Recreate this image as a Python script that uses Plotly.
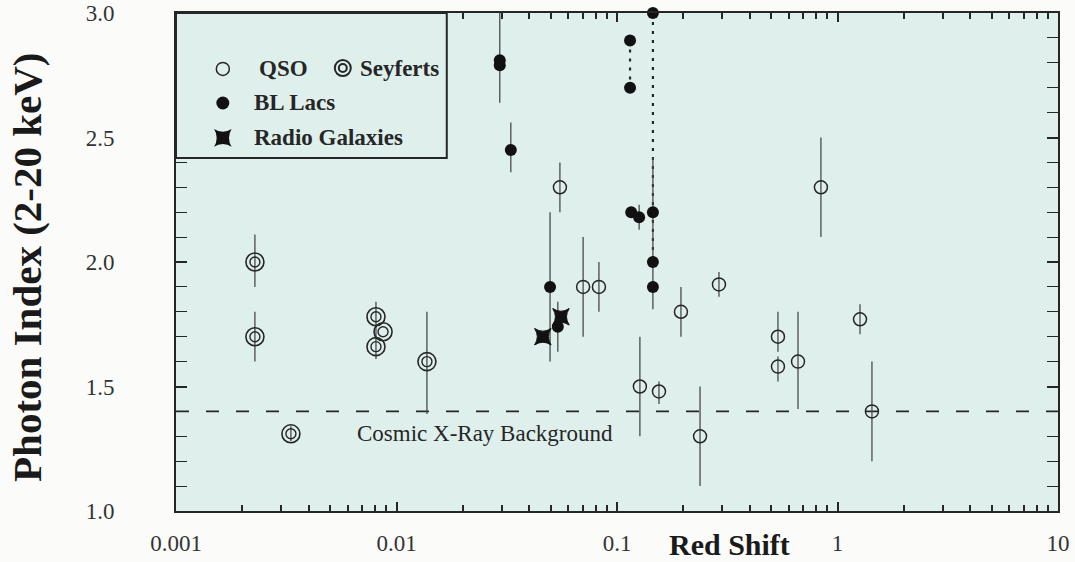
import plotly.graph_objects as go
import numpy as np

# ---------------- data ----------------
qso_z = [0.0551, 0.0702, 0.0828, 0.127, 0.155, 0.195, 0.238, 0.290, 0.537, 0.537, 0.662, 0.841, 1.265, 1.433]
qso_g = [2.30, 1.90, 1.90, 1.50, 1.48, 1.80, 1.30, 1.91, 1.70, 1.58, 1.60, 2.30, 1.77, 1.40]
qso_hi = [2.40, 2.10, 2.00, 1.70, 1.52, 1.90, 1.50, 1.96, 1.80, 1.62, 1.80, 2.50, 1.83, 1.60]
qso_lo = [2.20, 1.70, 1.80, 1.30, 1.43, 1.70, 1.10, 1.86, 1.64, 1.52, 1.41, 2.10, 1.71, 1.20]

sey_z = [0.00228, 0.00228, 0.00807, 0.00869, 0.00807, 0.01374, 0.00332]
sey_g = [2.00, 1.70, 1.78, 1.72, 1.66, 1.60, 1.31]
sey_hi = [2.11, 1.80, 1.84, 1.72, 1.72, 1.80, 1.34]
sey_lo = [1.90, 1.60, 1.72, 1.72, 1.61, 1.39, 1.28]

bll_z = [0.0294, 0.0294, 0.0330, 0.1146, 0.1146, 0.1455, 0.1455, 0.1455, 0.1455, 0.1160, 0.126, 0.0497, 0.0539]
bll_g = [2.81, 2.79, 2.45, 2.89, 2.70, 3.00, 2.20, 2.00, 1.90, 2.20, 2.18, 1.90, 1.74]
bll_hi = [3.00, 2.79, 2.56, 2.89, 2.70, 3.00, 2.20, 2.00, 2.42, 2.20, 2.23, 2.20, 1.84]
bll_lo = [2.64, 2.79, 2.36, 2.89, 2.70, 3.00, 2.20, 2.00, 1.81, 2.20, 2.13, 1.60, 1.64]

rg_z = [0.0461, 0.0557]
rg_g = [1.70, 1.78]

# dotted links between variable BL Lac states
link_z = [0.1146, 0.1455]
link_top = [2.89, 3.00]
link_bot = [2.70, 2.00]

cxb_gamma = 1.4
cxb_z = [0.001, 10]

y_tickvals = [1.0, 1.5, 2.0, 2.5, 3.0]
y_ticktext = ["1.0", "1.5", "2.0", "2.5", "3.0"]

# ---------------- styling ----------------
INK = "#262626"
BAR = "#4a4a4a"
FONT = "Liberation Serif"


def err(g, hi, lo):
    return (np.array(hi) - np.array(g)).tolist(), (np.array(g) - np.array(lo)).tolist()


fig = go.Figure()

# CXB dashed line
fig.add_trace(go.Scatter(x=cxb_z, y=[cxb_gamma, cxb_gamma], mode="lines",
                         line=dict(color=INK, width=1.6, dash="13px,17px"),
                         hoverinfo="skip", showlegend=False))
# same line on the minor-tick overlay axis (keeps that axis drawn, invisible)
fig.add_trace(go.Scatter(x=cxb_z, y=[cxb_gamma, cxb_gamma], xaxis="x3", mode="lines",
                         line=dict(color="rgba(0,0,0,0)", width=0),
                         hoverinfo="skip", showlegend=False))

# dotted links
for zz, t, b in zip(link_z, link_top, link_bot):
    fig.add_trace(go.Scatter(x=[zz, zz], y=[t, b], mode="lines",
                             line=dict(color=INK, width=2.2, dash="3px,6px"),
                             hoverinfo="skip", showlegend=False, cliponaxis=False))

eq = dict(type="data", symmetric=False, color=BAR, thickness=1.3, width=0)

up, dn = err(qso_g, qso_hi, qso_lo)
fig.add_trace(go.Scatter(x=qso_z, y=qso_g, mode="markers", name="QSO",
                         error_y=dict(array=up, arrayminus=dn, **eq),
                         marker=dict(symbol="circle-open", size=13, color=INK, line=dict(width=1.5)),
                         showlegend=False))

up, dn = err(sey_g, sey_hi, sey_lo)
fig.add_trace(go.Scatter(x=sey_z, y=sey_g, mode="markers", name="Seyferts",
                         error_y=dict(array=up, arrayminus=dn, **eq),
                         marker=dict(symbol="circle-open", size=18, color=INK, line=dict(width=1.6)),
                         showlegend=False))
fig.add_trace(go.Scatter(x=sey_z, y=sey_g, mode="markers",
                         marker=dict(symbol="circle-open", size=10, color=INK, line=dict(width=1.4)),
                         showlegend=False, hoverinfo="skip"))

up, dn = err(bll_g, bll_hi, bll_lo)
fig.add_trace(go.Scatter(x=bll_z, y=bll_g, mode="markers", name="BL Lacs",
                         error_y=dict(array=up, arrayminus=dn, **eq),
                         marker=dict(symbol="circle", size=12, color="#111111"),
                         showlegend=False, cliponaxis=False))

fig.add_trace(go.Scatter(x=rg_z, y=rg_g, mode="markers", name="Radio Galaxies",
                         marker=dict(symbol="star-square", size=15, color="#111111",
                                     line=dict(color="#111111", width=1)),
                         showlegend=False))

# ---------------- legend box (own small axes) ----------------
LX1 = 0.307   # right edge of legend box in paper fraction
LY0 = 0.709   # bottom edge of legend box
leg_sym_x = [0.173, 0.616, 0.173, 0.173]
leg_sym_y = [0.614, 0.62, 0.379, 0.138]
leg_text = ["QSO", "Seyferts", "BL Lacs", "Radio Galaxies"]
leg_text_x = [0.30, 0.672, 0.28, 0.28]

fig.add_trace(go.Scatter(x=[leg_sym_x[0]], y=[leg_sym_y[0]], xaxis="x2", yaxis="y2", mode="markers",
                         marker=dict(symbol="circle-open", size=13, color=INK, line=dict(width=1.5)),
                         showlegend=False, hoverinfo="skip"))
fig.add_trace(go.Scatter(x=[leg_sym_x[1]], y=[leg_sym_y[1]], xaxis="x2", yaxis="y2", mode="markers",
                         marker=dict(symbol="circle-open", size=16, color=INK, line=dict(width=2)),
                         showlegend=False, hoverinfo="skip"))
fig.add_trace(go.Scatter(x=[leg_sym_x[1]], y=[leg_sym_y[1]], xaxis="x2", yaxis="y2", mode="markers",
                         marker=dict(symbol="circle-open", size=8, color=INK, line=dict(width=2)),
                         showlegend=False, hoverinfo="skip"))
fig.add_trace(go.Scatter(x=[leg_sym_x[2]], y=[leg_sym_y[2]], xaxis="x2", yaxis="y2", mode="markers",
                         marker=dict(symbol="circle", size=13, color="#111111"),
                         showlegend=False, hoverinfo="skip"))
fig.add_trace(go.Scatter(x=[leg_sym_x[3]], y=[leg_sym_y[3]], xaxis="x2", yaxis="y2", mode="markers",
                         marker=dict(symbol="star-square", size=16, color="#111111"),
                         showlegend=False, hoverinfo="skip"))

annotations = []
for tx, ty, t in zip(leg_text_x, leg_sym_y, leg_text):
    annotations.append(dict(x=tx, y=ty, xref="x2", yref="y2", text=t, showarrow=False,
                            xanchor="left", yanchor="middle",
                            font=dict(family=FONT, size=23, color=INK, weight="bold")))

annotations += [
    dict(x=0.35, y=0.155, xref="paper", yref="paper", text="Cosmic X-Ray Background",
         showarrow=False, xanchor="center", yanchor="middle",
         font=dict(family=FONT, size=23, color=INK)),
    dict(x=-0.169, y=0.49, xref="paper", yref="paper", text="Photon Index (2-20 keV)",
         showarrow=False, textangle=-90, xanchor="center", yanchor="middle",
         font=dict(family=FONT, size=41, color="#1a1a1a", weight="bold")),
    dict(x=0.628, y=-0.068, xref="paper", yref="paper", text="Red Shift",
         showarrow=False, xanchor="center", yanchor="middle",
         font=dict(family=FONT, size=30, color="#1a1a1a", weight="bold")),
]

# minor tick positions 2..9 within each decade
x_minor = [m * 10.0 ** e for e in range(-3, 1) for m in range(2, 10)]

fig.update_layout(
    width=1075, height=562,
    margin=dict(l=176, r=17, t=13, b=51, autoexpand=False),
    paper_bgcolor="#fbfcfa",
    plot_bgcolor="#dff0ec",
    font=dict(family=FONT, color=INK),
    showlegend=False,
    annotations=annotations,
    shapes=[dict(type="rect", xref="paper", yref="paper", x0=0, x1=LX1, y0=LY0, y1=1,
                 line=dict(color=INK, width=2), fillcolor="rgba(0,0,0,0)")],
    xaxis=dict(type="log", range=[-3, 1], tickmode="linear", tick0=0, dtick=1,
               ticks="inside", ticklen=9, tickwidth=1.6, tickcolor=INK,
               showline=True, linewidth=2, linecolor=INK, mirror="allticks",
               showgrid=False, zeroline=False, ticklabelstandoff=10,
               tickfont=dict(family=FONT, size=23, color="#333333")),
    xaxis3=dict(type="log", range=[-3, 1], overlaying="x", anchor="y", side="bottom",
                tickmode="array", tickvals=x_minor, showticklabels=False,
                ticks="inside", ticklen=6, tickwidth=1.5, tickcolor=INK,
                showline=True, linewidth=2, linecolor=INK, mirror="allticks",
                showgrid=False, zeroline=False),
    yaxis=dict(range=[1, 3], tickmode="array", tickvals=y_tickvals, ticktext=y_ticktext,
               ticks="inside", ticklen=11, tickwidth=1.6, tickcolor=INK,
               showline=True, linewidth=2, linecolor=INK, mirror="allticks",
               showgrid=False, zeroline=False, ticklabelstandoff=55,
               tickfont=dict(family=FONT, size=23, color="#333333"),
               minor=dict(dtick=0.1, ticks="inside", ticklen=6, tickwidth=1.4,
                          tickcolor=INK, showgrid=False)),
    xaxis2=dict(domain=[0, LX1], range=[0, 1], visible=False, anchor="y2"),
    yaxis2=dict(domain=[LY0, 1], range=[0, 1], visible=False, anchor="x2"),
)

# remove the page's default body margin so the figure fills the window exactly
fig.write_html("out.html", config={"displayModeBar": False},
               post_script="document.body.style.margin='0';document.body.style.background='#fbfcfa';")
